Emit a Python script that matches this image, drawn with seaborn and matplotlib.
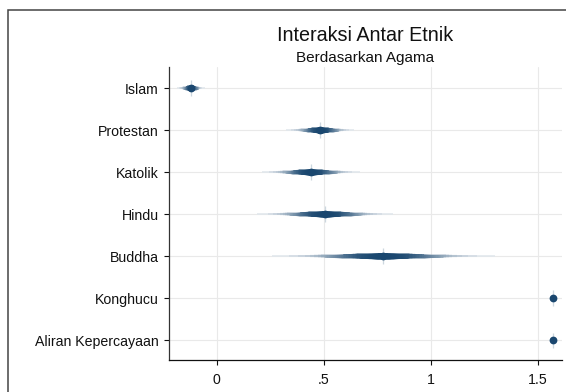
import numpy as np
import pandas as pd
import seaborn as sns
import matplotlib
matplotlib.use("Agg")
import matplotlib.pyplot as plt
from matplotlib.patches import Rectangle
from statistics import NormalDist

# Religion categories, point estimates and standard errors
agama = ["Islam", "Protestan", "Katolik", "Hindu", "Buddha", "Konghucu", "Aliran Kepercayaan"]
koef = [-0.121, 0.483, 0.439, 0.505, 0.777, 1.567, 1.567]
se = [0.025, 0.062, 0.089, 0.123, 0.202, 0.0, 0.0]

x_ticks = [0, 0.5, 1, 1.5]
x_ticklabels = ["0", ".5", "1", "1.5"]

navy = np.array([26, 71, 111]) / 255.0
df = pd.DataFrame({"agama": agama, "koef": koef, "se": se})

sns.set_theme(style="white")
plt.rcParams["font.family"] = ["Liberation Sans", "DejaVu Sans"]

DPI = 100
fig = plt.figure(figsize=(5.66, 3.92), dpi=DPI)
ax = fig.add_axes([169 / 566, 1 - 360 / 392, (562 - 169) / 566, (360 - 67) / 392])

# Smoothed confidence intervals: levels 1, 3, ..., 99 percent,
# wider/lighter for high levels, thicker/darker for low levels
levels = np.arange(1, 100, 2)
n = len(levels)
px = 72.0 / DPI
frac = (levels - 1) / 98.0
lw_px = 1.6 + 4.0 * (1 - frac ** 1.6)
inten = 0.13 + 0.87 * (1 - frac ** 3.0)
for i in range(n - 1, -1, -1):
    z = NormalDist().inv_cdf(0.5 + levels[i] / 200.0)
    col = 1 - inten[i] * (1 - navy)
    for j, row in df.iterrows():
        if row["se"] <= 0:
            continue
        half = z * row["se"]
        ax.hlines(j, row["koef"] - half, row["koef"] + half, color=col,
                  lw=lw_px[i] * px, capstyle="butt", zorder=3)

# thin vertical sliver through each estimate
for j, row in df.iterrows():
    ax.plot([row["koef"], row["koef"]], [j - 0.19, j + 0.19],
            color=1 - 0.22 * (1 - navy), lw=1.3 * px, zorder=3.5,
            solid_capstyle="butt")

sns.pointplot(data=df, x="koef", y="agama", orient="h", linestyle="none",
              errorbar=None, color=navy, markersize=5.6, marker="o",
              markeredgewidth=0, ax=ax, zorder=5)

ax.set_xlim(-0.2225, 1.611)
ax.set_ylim(6.464, -0.507)
ax.set_xticks(x_ticks)
ax.set_xticklabels(x_ticklabels)
ax.set_xlabel("")
ax.set_ylabel("")

ax.grid(True, color="#e9e9e9", lw=0.8)
ax.set_axisbelow(True)
for s in ["top", "right"]:
    ax.spines[s].set_visible(False)
ax.spines["left"].set_color("#333333")
ax.spines["bottom"].set_color("#111111")
ax.spines["left"].set_linewidth(0.9)
ax.spines["bottom"].set_linewidth(0.9)
ax.tick_params(axis="both", which="both", direction="out", length=3.5,
               width=0.8, colors="#111111", labelsize=10.2, labelcolor="#111111",
               left=True, bottom=True)
ax.tick_params(axis="x", pad=5.5)
ax.tick_params(axis="y", pad=3.8)

fig.text(365.5 / 566, 1 - 41 / 392, "Interaksi Antar Etnik", ha="center",
         va="baseline", fontsize=14.2, color="#111111")
fig.text(365.5 / 566, 1 - 61.7 / 392, "Berdasarkan Agama", ha="center",
         va="baseline", fontsize=11.0, color="#111111")

# outer graph frame
fig.patches.append(Rectangle((8 / 566, -0.1), 1.2, 1 - 10 / 392 + 0.1,
                             transform=fig.transFigure, fill=False,
                             edgecolor="#444444", lw=1.1))

fig.savefig("out.png", dpi=DPI)
